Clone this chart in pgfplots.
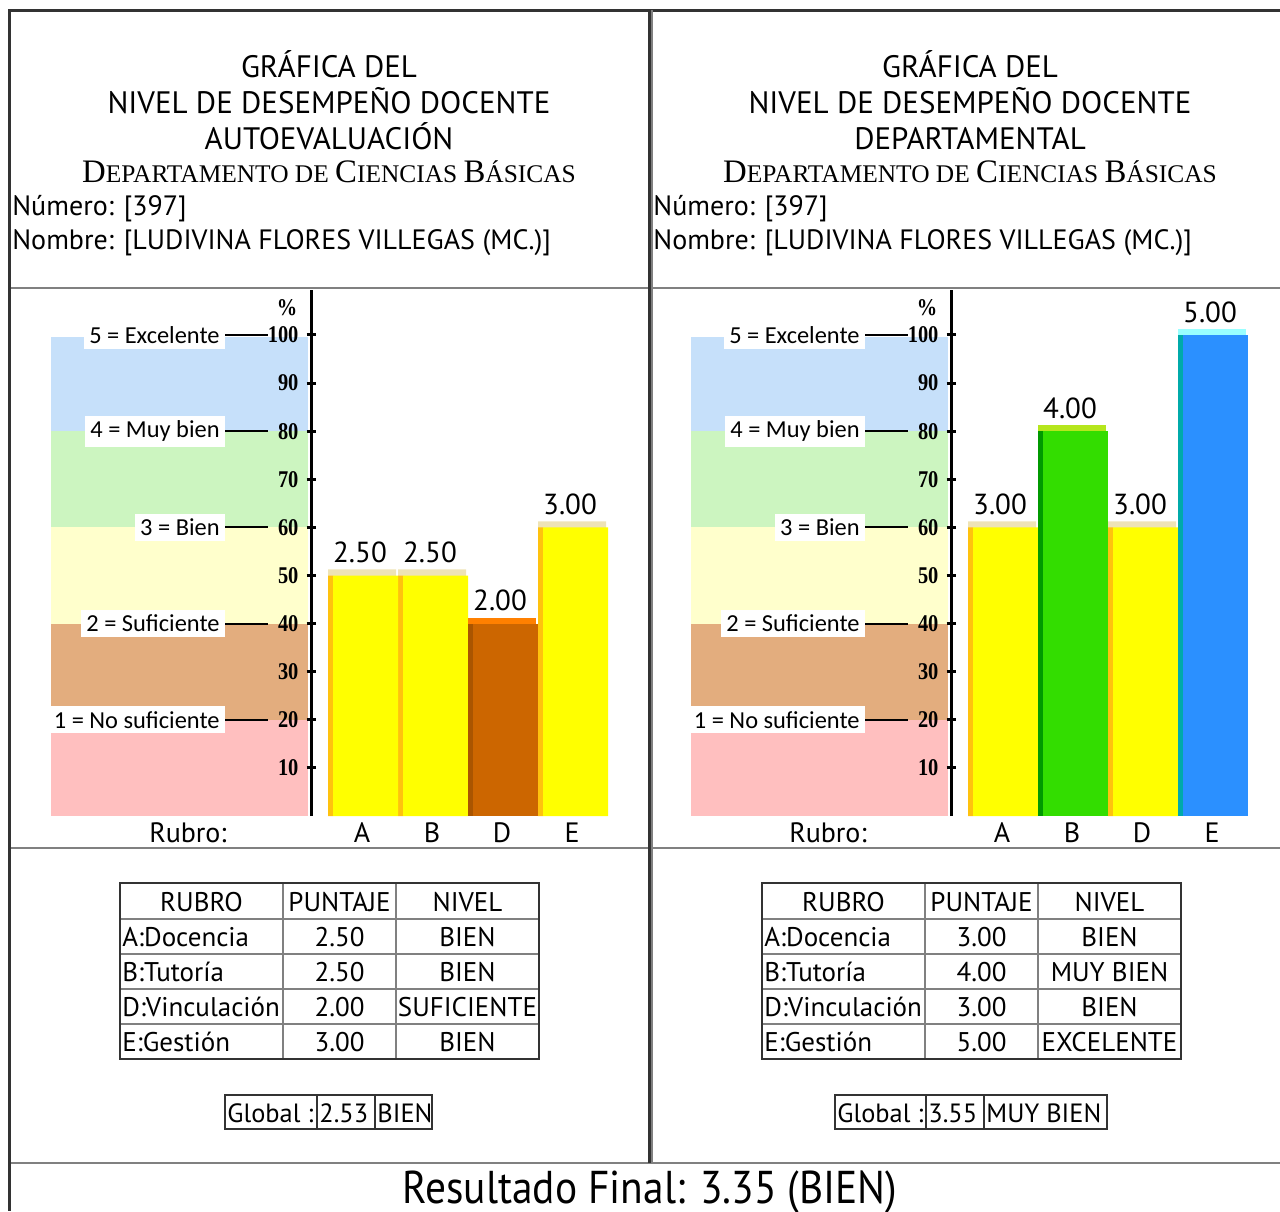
\documentclass[border=0pt]{standalone}
\usepackage{pgfplots}
\pgfplotsset{compat=1.18}
\usepackage{graphicx}
\usepackage{fontspec}
\setmainfont{PT Sans}
\newfontfamily\lab{Carlito}
\newfontfamily\serif{Liberation Serif}
\newfontfamily\tickserif{Liberation Serif}[FakeStretch=0.85]

% bandas de nivel
\definecolor{bandA}{RGB}{255,191,191}
\definecolor{bandB}{RGB}{227,173,126}
\definecolor{bandC}{RGB}{255,255,204}
\definecolor{bandD}{RGB}{204,245,192}
\definecolor{bandE}{RGB}{198,224,250}
% barras: cara, borde, tapa
\definecolor{yel}{RGB}{255,255,0}
\definecolor{yelE}{RGB}{255,194,14}
\definecolor{yelC}{RGB}{238,227,181}
\definecolor{ora}{RGB}{204,102,0}
\definecolor{oraE}{RGB}{170,85,0}
\definecolor{oraC}{RGB}{255,128,0}
\definecolor{gre}{RGB}{51,221,0}
\definecolor{greE}{RGB}{0,153,0}
\definecolor{greC}{RGB}{181,230,29}
\definecolor{blu}{RGB}{43,144,255}
\definecolor{bluE}{RGB}{0,170,170}
\definecolor{bluC}{RGB}{153,255,255}
\definecolor{frame}{RGB}{51,51,51}
\definecolor{rule}{RGB}{128,128,128}

\newcommand{\tickfont}{\tickserif\bfseries\fontsize{12}{12}\selectfont}
\newcommand{\fakesc}[2]{{\fontsize{16.4}{16.4}\selectfont #1}{\fontsize{12.7}{13}\selectfont #2}}
\newcommand{\dept}{{\serif\fakesc{D}{EPARTAMENTO DE }\fakesc{C}{IENCIAS }\fakesc{B}{ÁSICAS}}}

\pgfplotsset{panel/.style={
    anchor=south west, scale only axis, clip=false,
    width=279.5pt, height=263pt,
    xmin=-260, xmax=299, ymin=0, ymax=109.35,
    enlargelimits=false, axis on top,
    axis y line=middle, axis x line=none,
    y axis line style={-, line width=1.5pt, black},
    ytick={10,20,...,100},
    major tick length=4.5pt, tick align=center,
    every tick/.style={black, line width=1.5pt},
    yticklabel style={font=\tickfont, anchor=east, xshift=-0.5pt},
    /pgf/number format/assume math mode=true,
    xtick=\empty,
  }
}
\tikzset{lbl/.style={anchor=east, fill=white, inner sep=2.5pt, font=\lab\fontsize{12.2}{12.2}\selectfont}}

% bandas de fondo y etiquetas
\newcommand{\bandas}{%
  \addplot[fill=bandA, draw=none] coordinates {(-260,0) (-3,0) (-3,20) (-260,20)} -- cycle;
  \addplot[fill=bandB, draw=none] coordinates {(-260,20) (-3,20) (-3,40) (-260,40)} -- cycle;
  \addplot[fill=bandC, draw=none] coordinates {(-260,40) (-3,40) (-3,60) (-260,60)} -- cycle;
  \addplot[fill=bandD, draw=none] coordinates {(-260,60) (-3,60) (-3,80) (-260,80)} -- cycle;
  \addplot[fill=bandE, draw=none] coordinates {(-260,80) (-3,80) (-3,99.5) (-260,99.5)} -- cycle;
  \draw[line width=1pt] (axis cs:-86,100) -- (axis cs:-43,100);
  \draw[line width=1pt] (axis cs:-86,80) -- (axis cs:-43,80);
  \draw[line width=1pt] (axis cs:-86,60) -- (axis cs:-43,60);
  \draw[line width=1pt] (axis cs:-86,40) -- (axis cs:-43,40);
  \draw[line width=1pt] (axis cs:-86,20) -- (axis cs:-43,20);
  \node[lbl] at (axis cs:-86,100) {5 = Excelente};
  \node[lbl] at (axis cs:-86,80) {4 = Muy bien};
  \node[lbl] at (axis cs:-86,60) {3 = Bien};
  \node[lbl] at (axis cs:-86,40) {2 = Suficiente};
  \node[lbl] at (axis cs:-86,20) {1 = No suficiente};
  \node[font=\tickfont] at (axis cs:-24,105.6) {\%};
  \node[anchor=base, font=\fontsize{14}{14}\selectfont, yshift=-13pt] at (axis cs:-123,0) {Rubro:};
  \node[anchor=base, font=\fontsize{14}{14}\selectfont, yshift=-13pt] at (axis cs:51,0) {A};
  \node[anchor=base, font=\fontsize{14}{14}\selectfont, yshift=-13pt] at (axis cs:121,0) {B};
  \node[anchor=base, font=\fontsize{14}{14}\selectfont, yshift=-13pt] at (axis cs:191,0) {D};
  \node[anchor=base, font=\fontsize{14}{14}\selectfont, yshift=-13pt] at (axis cs:261,0) {E};
}

% barra con tapa y borde: #1 cara, #2 borde, #3 tapa, #4 datos
\newcommand{\barset}[4]{%
  \addplot[ybar, bar width=68, bar shift=-1, fill=#3, draw=none, yshift=3pt] coordinates {#4};
  \addplot[ybar, bar width=5, bar shift=-32.5, fill=#2, draw=none] coordinates {#4};
  \addplot[ybar, bar width=65, bar shift=2.5, fill=#1, draw=none,
    nodes near coords, point meta=explicit symbolic,
    every node near coord/.append style={anchor=south, inner sep=0pt, yshift=6pt,
      xshift=-1.5pt, font=\fontsize{14.5}{14.5}\selectfont}] coordinates {#4};
}

% tabla de puntajes
\newcommand{\tabla}[9]{%
  \begin{scope}[shift={(#1,0)}]
    \draw[rule, line width=1pt] (163,883) -- (163,1059) (276,883) -- (276,1059);
    \foreach \y in {919,954,989,1024} \draw[rule, line width=1pt] (0,\y) -- (419,\y);
    \draw[frame, line width=1pt] (0,883) rectangle (419,1059);
    \begin{scope}[every node/.style={anchor=base, inner sep=0pt, font=\fontsize{13.5}{13.5}\selectfont}]
      \node at (81.5,911) {RUBRO};
      \node at (219.5,911) {PUNTAJE};
      \node at (347.5,911) {NIVEL};
      \node[anchor=base west] at (2,946) {A:Docencia};
      \node[anchor=base west] at (2,981) {B:Tutoría};
      \node[anchor=base west] at (2,1016) {D:Vinculación};
      \node[anchor=base west] at (2,1051) {E:Gestión};
      \node at (219.5,946) {#2}; \node at (347.5,946) {#3};
      \node at (219.5,981) {#4}; \node at (347.5,981) {#5};
      \node at (219.5,1016) {#6}; \node at (347.5,1016) {#7};
      \node at (219.5,1051) {#8}; \node at (347.5,1051) {#9};
    \end{scope}
  \end{scope}
}

\begin{document}
\begin{tikzpicture}
\begin{scope}[x=0.5pt, y=-0.5pt]
\useasboundingbox (0,0) rectangle (1280,1211);

% marco
\draw[rule, line width=1pt] (10,288) -- (1280,288) (10,848) -- (1280,848) (10,1163) -- (1280,1163);
\draw[frame, line width=1.5pt] (8,10.5) -- (1280,10.5);
\draw[frame, line width=1.5pt] (9.5,9) -- (9.5,1211);
\draw[frame, line width=1.5pt] (649.5,10) -- (649.5,1163);
\draw[rule, line width=0.8pt] (652,10) -- (652,1163);

% encabezados
\begin{scope}[every node/.style={anchor=base, inner sep=0pt}]
  \node[font=\fontsize{15.5}{15.5}\selectfont] at (329,77) {GRÁFICA DEL};
  \node[font=\fontsize{15.5}{15.5}\selectfont] at (329,113) {NIVEL DE DESEMPEÑO DOCENTE};
  \node[font=\fontsize{15.5}{15.5}\selectfont] at (329,149) {AUTOEVALUACIÓN};
  \node at (329,182) {\dept};
  \node[anchor=base west, font=\fontsize{14}{14}\selectfont] at (12,215) {Número: [397]};
  \node[anchor=base west, font=\fontsize{14}{14}\selectfont] at (12,249) {Nombre: [LUDIVINA FLORES VILLEGAS (MC.)]};

  \node[font=\fontsize{15.5}{15.5}\selectfont] at (970,77) {GRÁFICA DEL};
  \node[font=\fontsize{15.5}{15.5}\selectfont] at (970,113) {NIVEL DE DESEMPEÑO DOCENTE};
  \node[font=\fontsize{15.5}{15.5}\selectfont] at (970,149) {DEPARTAMENTAL};
  \node at (970,182) {\dept};
  \node[anchor=base west, font=\fontsize{14}{14}\selectfont] at (653,215) {Número: [397]};
  \node[anchor=base west, font=\fontsize{14}{14}\selectfont] at (653,249) {Nombre: [LUDIVINA FLORES VILLEGAS (MC.)]};

  \node[font=\fontsize{23}{23}\selectfont] at (650,1203) {\scalebox{0.9}[1]{Resultado Final: 3.35 (BIEN)}};
\end{scope}

% tablas
\tabla{120}{2.50}{BIEN}{2.50}{BIEN}{2.00}{SUFICIENTE}{3.00}{BIEN}
\tabla{762}{3.00}{BIEN}{4.00}{MUY BIEN}{3.00}{BIEN}{5.00}{EXCELENTE}

% global
\begin{scope}[every node/.style={anchor=base west, inner sep=0pt, font=\fontsize{13.2}{13.2}\selectfont}]
  \draw[frame, line width=1pt] (225,1095) rectangle (432,1129);
  \draw[frame, line width=0.8pt] (317,1095) -- (317,1129) (375,1095) -- (375,1129);
  \node at (227,1122) {Global :};
  \node at (319,1122) {2.53};
  \node at (377,1122) {BIEN};
  \draw[frame, line width=1pt] (835,1095) rectangle (1107,1129);
  \draw[frame, line width=0.8pt] (926,1095) -- (926,1129) (984,1095) -- (984,1129);
  \node at (837,1122) {Global :};
  \node at (928,1122) {3.55};
  \node at (986,1122) {MUY BIEN};
\end{scope}
\end{scope}

% grafica autoevaluacion
\begin{axis}[panel, at={(25.5pt,-408pt)}]
  \bandas
  \barset{yel}{yelE}{yelC}{(52,50) [2.50] (122,50) [2.50] (262,60) [3.00]}
  \barset{ora}{oraE}{oraC}{(192,40) [2.00]}
\end{axis}

% grafica departamental
\begin{axis}[panel, at={(345.5pt,-408pt)}]
  \bandas
  \barset{yel}{yelE}{yelC}{(52,60) [3.00] (192,60) [3.00]}
  \barset{gre}{greE}{greC}{(122,80) [4.00]}
  \barset{blu}{bluE}{bluC}{(262,100) [5.00]}
\end{axis}
\end{tikzpicture}
\end{document}
